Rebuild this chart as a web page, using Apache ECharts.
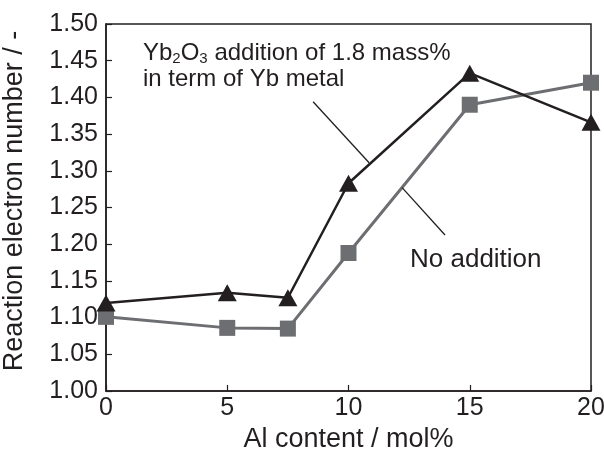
<!DOCTYPE html>
<html><head><meta charset="utf-8">
<script src="https://cdn.jsdelivr.net/npm/echarts@6/dist/echarts.min.js"></script>
<style>html,body{margin:0;padding:0;background:#fff}#c{width:604px;height:454px}</style>
</head><body><div id="c"></div>
<script>
const xValues = [0, 5, 7.5, 10, 15, 20];
const ybAddition = [1.120, 1.134, 1.127, 1.283, 1.433, 1.366];
const noAddition = [1.101, 1.086, 1.085, 1.188, 1.390, 1.420];
const xTicks = [0, 5, 10, 15, 20];
const yTicks = [1.00, 1.05, 1.10, 1.15, 1.20, 1.25, 1.30, 1.35, 1.40, 1.45, 1.50];
const pointer1 = [[8.54, 1.394], [10.85, 1.311]];
const pointer2 = [[12.21, 1.277], [13.98, 1.2125]];

const dark = '#231f20';
const grey = '#6d6e71';
const font = 'Liberation Sans, Arial, Helvetica, sans-serif';

const chart = echarts.init(document.getElementById('c'), null, {renderer: 'canvas'});
chart.setOption({
  animation: false,
  backgroundColor: '#fff',
  grid: {left: 106, right: 13, top: 24, bottom: 63, containLabel: false, outerBoundsMode: 'none',
    show: true, borderColor: dark, borderWidth: 1.5, backgroundColor: 'transparent'},
  xAxis: {
    type: 'value', min: 0, max: 20, interval: 5,
    name: 'Al content / mol%', nameLocation: 'middle', nameGap: 27,
    nameTextStyle: {fontFamily: font, fontSize: 27, color: dark},
    axisLine: {lineStyle: {color: dark, width: 1.5}},
    axisTick: {inside: true, length: 6, lineStyle: {color: dark, width: 1.2}},
    axisLabel: {fontFamily: font, fontSize: 25, color: dark, margin: 5,
      formatter: v => xTicks.indexOf(v) >= 0 ? String(v) : ''},
    splitLine: {show: false}
  },
  yAxis: {
    type: 'value', min: 1.0, max: 1.5, interval: 0.05,
    name: 'Reaction electron number / -', nameLocation: 'middle', nameGap: 78,
    nameTextStyle: {fontFamily: font, fontSize: 27, color: dark, padding: [0, 0, 0, 13]},
    axisLine: {show: true, lineStyle: {color: dark, width: 1.5}},
    axisTick: {show: true, inside: true, length: 6, lineStyle: {color: dark, width: 1.2}},
    axisLabel: {fontFamily: font, fontSize: 25, color: dark, margin: 8,
      formatter: v => { const t = yTicks.find(y => Math.abs(y - v) < 1e-6); return t === undefined ? '' : t.toFixed(2); }},
    splitLine: {show: false}
  },
  series: [
    {
      type: 'line', name: 'No addition',
      data: xValues.map((x, i) => [x, noAddition[i]]),
      symbol: 'rect', symbolSize: 16,
      itemStyle: {color: grey},
      lineStyle: {color: grey, width: 3},
      z: 2,
      markLine: {
        silent: true, symbol: ['none', 'none'],
        lineStyle: {color: dark, width: 1.3, type: 'solid'},
        label: {show: false},
        data: [
          [{coord: pointer1[0]}, {coord: pointer1[1]}],
          [{coord: pointer2[0]}, {coord: pointer2[1]}]
        ]
      }
    },
    {
      type: 'line', name: 'Yb2O3 addition',
      data: xValues.map((x, i) => [x, ybAddition[i]]),
      symbol: 'triangle', symbolSize: [19, 17],
      itemStyle: {color: dark},
      lineStyle: {color: dark, width: 2.5},
      z: 3
    }
  ],
  graphic: [
    {
      type: 'text', left: 143, top: 41, z: 10,
      style: {
        text: '{m|Yb}{s|2}{m|O}{s|3}{m| addition of 1.8 mass%}\n{m|in term of Yb metal}',
        fill: dark,
        rich: {
          m: {fontFamily: font, fontSize: 24, lineHeight: 26, fill: dark},
          s: {fontFamily: font, fontSize: 15, lineHeight: 15, verticalAlign: 'bottom', fill: dark}
        }
      }
    },
    {
      type: 'text', left: 410, top: 247, z: 10,
      style: {text: 'No addition', fontFamily: font, fontSize: 26, fill: dark}
    }
  ]
});
</script>
</body></html>
